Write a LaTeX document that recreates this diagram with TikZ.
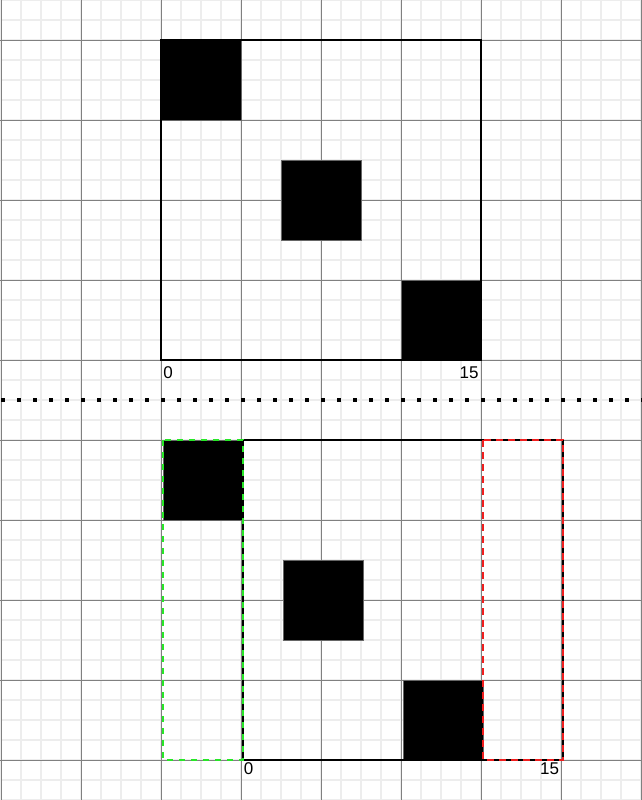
\documentclass[tikz,border=0pt]{standalone}
\usepackage{fontspec}
\setmainfont{Liberation Sans}
\begin{document}
\begin{tikzpicture}[x=1pt,y=-1pt,
  minorgrid/.style={draw=black!7,line width=2pt},
  majorgrid/.style={draw=black!50,line width=0.9pt},
  outline/.style={draw=black,line width=2pt},
  blk/.style={fill=black,draw=black!60,line width=0.6pt},
  lbl/.style={font=\fontsize{17}{17}\selectfont,inner sep=0pt},
  greenbox/.style={draw={rgb,255:red,40;green,230;blue,40},line width=2.4pt,dash pattern=on 6pt off 6pt},
  redbox/.style={draw={rgb,255:red,240;green,30;blue,30},line width=2.4pt,dash pattern=on 7pt off 5pt}]
\useasboundingbox (0,0) rectangle (642,800);
\fill[white] (0,0) rectangle (642,800);
% minor grid
\foreach \x in {1,21,...,641} \draw[minorgrid] (\x,0) -- (\x,800);
\foreach \y in {0,20,...,800} \draw[minorgrid] (0,\y) -- (642,\y);
% major grid
\foreach \x in {1,81,...,641} \draw[majorgrid] (\x,0) -- (\x,800);
\foreach \y in {40,120,...,760} \draw[majorgrid] (0,\y) -- (642,\y);
% top
\fill[blk] (161,40) rectangle (241,120);
\fill[blk] (281,160) rectangle (361,240);
\fill[blk] (401,280) rectangle (481,360);
\draw[outline] (161,40) rectangle (481,360);
\node[lbl] (t0) at (168,373) {0};
\node[lbl] (t15) at (469,373) {15};
% separator
\draw[line width=4pt,dash pattern=on 4pt off 12pt] (1,400) -- (642,400);
% bottom
\fill[blk] (163,440) rectangle (243,520);
\fill[blk] (283,560) rectangle (363,640);
\fill[blk] (403,680) rectangle (483,760);
\draw[outline] (243,440) rectangle (563,760);
\draw[greenbox] (163,440) rectangle (243,760);
\draw[redbox] (483,440) rectangle (563,760);
\node[lbl] (b0) at (248.5,768.5) {0};
\node[lbl] (b15) at (549.5,768.5) {15};
\end{tikzpicture}
\end{document}
